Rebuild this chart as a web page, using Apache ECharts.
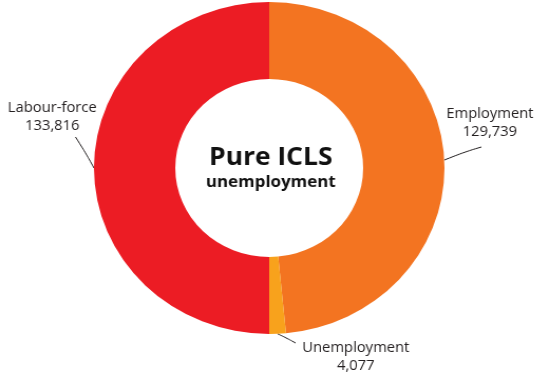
<!DOCTYPE html>
<html>
<head>
<meta charset="utf-8">
<script src="https://cdn.jsdelivr.net/npm/echarts@6/dist/echarts.min.js"></script>
<style>
  html, body { margin: 0; padding: 0; background: #ffffff; overflow: hidden; }
  /* the figure is drawn slightly widened, as in the printed version */
  #chart { width: 521px; height: 375px; transform: scaleX(1.0557); transform-origin: 0 0; }
</style>
</head>
<body>
<div id="chart"></div>
<script>
// Labour-force split (thousands): the right half breaks labour force into its parts
const categories = ['Employment', 'Unemployment', 'Labour-force'];
const values = [129739, 4077, 133816];
const colors = ['#F37421', '#F8A21C', '#EC1C24'];
const centerTitle = 'Pure ICLS';
const centerSubtitle = 'unemployment';

// where each outside label sits, and where its leader line meets it
const labelSpots = [
  { x: 464, y: 123, lineEnd: [-8, 24], bend: [8, 12] },
  { x: 337, y: 357, lineEnd: [-57, -14], bend: [-60, -18] },
  { x: 49.5, y: 117, lineEnd: [22, 20], bend: [32, 30] }
];

const chart = echarts.init(document.getElementById('chart'), null, { renderer: 'canvas' });

const fmt = v => v.toLocaleString('en-US');

chart.setOption({
  animation: false,
  backgroundColor: '#ffffff',
  graphic: [
    {
      type: 'text', x: 256.5, y: 158, silent: true,
      style: {
        text: centerTitle, align: 'center', verticalAlign: 'middle',
        font: 'bold 25px "Open Sans"', fill: '#111111'
      }
    },
    {
      type: 'text', x: 256.5, y: 182, silent: true,
      style: {
        text: centerSubtitle, align: 'center', verticalAlign: 'middle',
        font: 'bold 16px "Open Sans"', fill: '#111111'
      }
    }
  ],
  series: [{
    type: 'pie',
    center: [255, 168],
    radius: [89, 166],
    startAngle: 90,
    clockwise: true,
    silent: true,
    emphasis: { disabled: true },
    data: categories.map((name, i) => ({
      name: name,
      value: values[i],
      itemStyle: { color: colors[i] }
    })),
    label: {
      show: true,
      position: 'outside',
      formatter: p => p.name + '\n' + fmt(p.value),
      fontFamily: 'Open Sans',
      fontSize: 14,
      lineHeight: 18,
      color: '#231F20',
      align: 'center',
      overflow: 'none'
    },
    labelLine: {
      show: true,
      length: 10,
      length2: 10,
      smooth: 0.4,
      lineStyle: { color: '#231F20', width: 1 }
    },
    labelLayout: p => {
      const s = labelSpots[p.dataIndex];
      const anchor = p.labelLinePoints ? p.labelLinePoints[0] : null;
      const out = { x: s.x, y: s.y, align: 'center', verticalAlign: 'middle' };
      if (anchor) {
        const end = [s.x + s.lineEnd[0], s.y + s.lineEnd[1]];
        const mid = [
          (anchor[0] + end[0]) / 2 + (s.bend[0] - s.lineEnd[0]) * 0.15,
          (anchor[1] + end[1]) / 2 + (s.bend[1] - s.lineEnd[1]) * 0.15
        ];
        out.labelLinePoints = [anchor, mid, end];
      }
      return out;
    }
  }]
});
</script>
</body>
</html>
